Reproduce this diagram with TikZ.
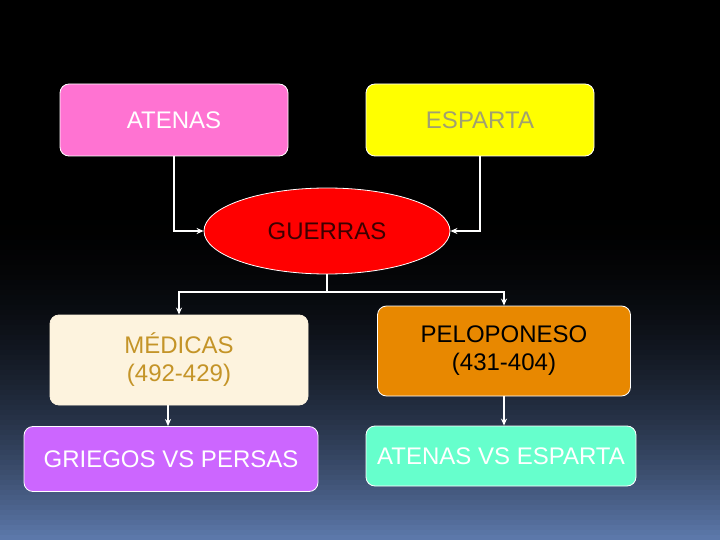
\documentclass[tikz,border=0pt]{standalone}
\usepackage{fontspec}
\setmainfont{Liberation Sans}
\usetikzlibrary{arrows.meta,positioning,shapes.geometric}
\definecolor{pinkbox}{RGB}{255,115,210}
\definecolor{yellowbox}{RGB}{255,255,0}
\definecolor{redoval}{RGB}{255,0,0}
\definecolor{creambox}{RGB}{253,243,222}
\definecolor{orangebox}{RGB}{232,136,0}
\definecolor{purplebox}{RGB}{204,102,255}
\definecolor{aquabox}{RGB}{102,255,204}
\definecolor{oliveText}{RGB}{160,160,112}
\definecolor{goldText}{RGB}{196,148,40}
\definecolor{darkText}{RGB}{60,0,0}
\definecolor{bgbottom}{RGB}{92,120,170}
\tikzset{
  box/.style={rectangle, rounded corners=9pt, draw=white, line width=0.8pt, inner sep=0pt,
              align=center, font=\fontsize{24}{28}\selectfont},
  boxpink/.style={box, fill=pinkbox, text=white},
  boxyellow/.style={box, fill=yellowbox, text=oliveText},
  boxcream/.style={box, fill=creambox, draw=creambox, text=goldText},
  boxorange/.style={box, fill=orangebox, text=black},
  boxpurple/.style={box, fill=purplebox, text=white},
  boxaqua/.style={box, fill=aquabox, text=white},
  oval/.style={ellipse, draw=white, line width=0.8pt, fill=redoval, text=darkText, inner sep=0pt,
               font=\fontsize{24}{28}\selectfont},
  conn/.style={-{Stealth[length=7pt,width=6pt]}, white, line width=1.5pt},
}
\begin{document}
\begin{tikzpicture}[x=1pt,y=-1pt]
\useasboundingbox (0,0) rectangle (720,540);
% background
\clip (0,0) rectangle (720,540);
\fill[black] (0,0) rectangle (720,540);
\foreach \i in {0,...,67}{
  \pgfmathsetmacro\p{100*(\i/67)^2}
  \fill[bgbottom!\p!black] (0,200+5*\i) rectangle (720,206+5*\i);
}

\node[boxpink, minimum width=228pt, minimum height=72pt] (atenas) at (174,120) {ATENAS};
\node[boxyellow, minimum width=228pt, minimum height=72pt] (esparta) at (480,120) {ESPARTA};
\node[oval, minimum width=246pt, minimum height=86pt] (guerras) at (327,231) {GUERRAS};

\node[boxcream, minimum width=258pt, minimum height=90pt] (medicas) at (179,360) {MÉDICAS\\(492-429)};
\node[boxorange, minimum width=253pt, minimum height=90pt] (pelop) at (504,351) {PELOPONESO\\(431-404)};
\node[boxpurple, minimum width=294pt, minimum height=65pt] (griegos) at (171,459) {GRIEGOS VS PERSAS};
\node[boxaqua, minimum width=270pt, minimum height=60pt] (atvsesp) at (501,456) {ATENAS VS ESPARTA};

\draw[conn] (atenas.south) |- (guerras.west);
\draw[conn] (esparta.south) |- (guerras.east);

\coordinate (split) at (327,292);
\draw[white, line width=1.5pt] (guerras.south) -- (split);
\draw[conn] (split) -| (medicas.north);
\draw[conn] (split) -| (pelop.north);

\draw[conn] ([xshift=-11pt]medicas.south) -- ([xshift=-11pt]medicas.south |- griegos.north);
\draw[conn] (pelop.south) -- (pelop.south |- atvsesp.north);
\end{tikzpicture}
\end{document}
